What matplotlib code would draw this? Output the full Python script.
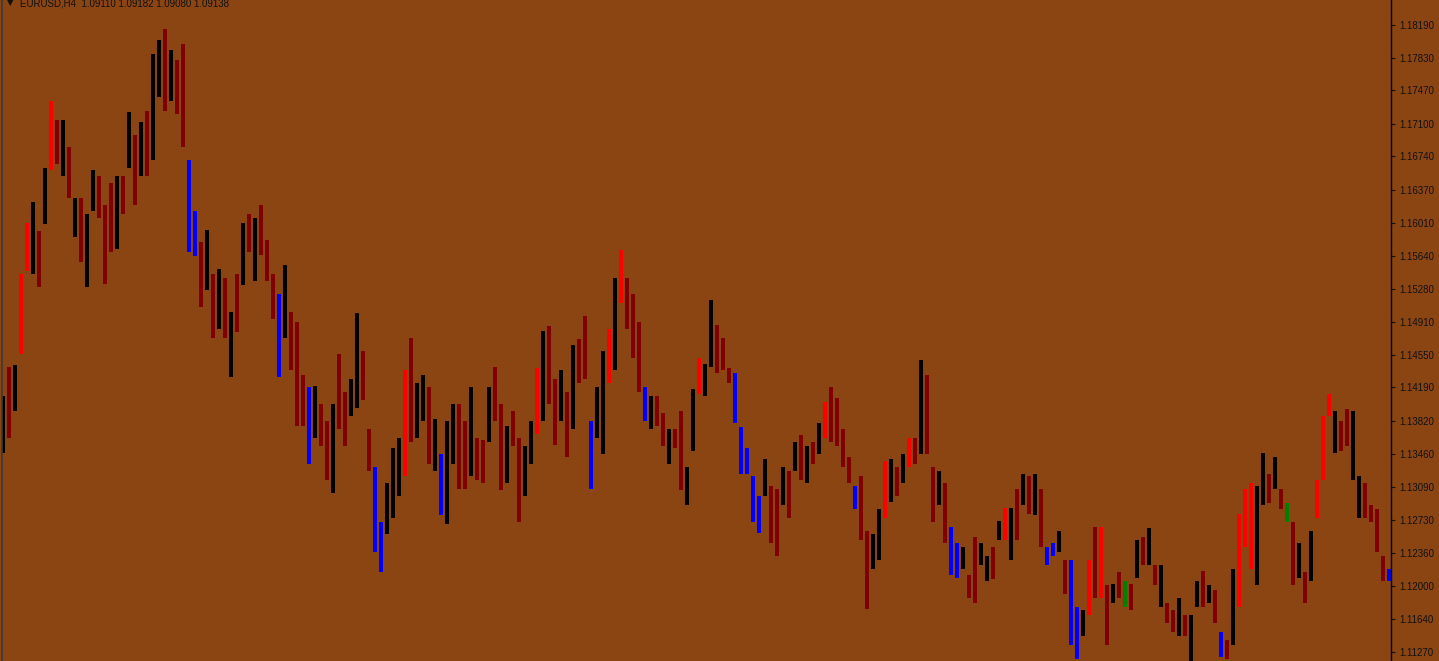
import matplotlib
matplotlib.use('Agg')
import matplotlib.pyplot as plt
import numpy as np

plt.rcParams['font.family'] = ['Liberation Sans', 'DejaVu Sans']

# header of the MT4 window
symbol = 'EURUSD,H4'
last_ohlc = ['1.09110', '1.09182', '1.09080', '1.09138']

# bar highs / lows (one entry per ~6 px column)
highs = [
    1.1410, 1.1442, 1.1444, 1.1544, 1.1601, 1.1624, 1.1592, 1.1661, 1.1735, 1.1714,
    1.1714, 1.1684, 1.1628, 1.1628, 1.1610, 1.1659, 1.1652, 1.1620, 1.1645, 1.1652,
    1.1652, 1.1723, 1.1698, 1.1712, 1.1724, 1.1787, 1.1802, 1.1815, 1.1791, 1.1780,
    1.1798, 1.1670, 1.1614, 1.1579, 1.1593, 1.1544, 1.1550, 1.1540, 1.1502, 1.1544,
    1.1600, 1.1610, 1.1606, 1.1620, 1.1582, 1.1544, 1.1522, 1.1554, 1.1502, 1.1491,
    1.1433, 1.1419, 1.1421, 1.1401, 1.1382, 1.1401, 1.1456, 1.1414, 1.1428, 1.1501,
    1.1459, 1.1373, 1.1331, 1.1271, 1.1313, 1.1352, 1.1363, 1.1438, 1.1474, 1.1424,
    1.1433, 1.1419, 1.1384, 1.1345, 1.1382, 1.1401, 1.1401, 1.1382, 1.1419, 1.1363,
    1.1361, 1.1419, 1.1442, 1.1401, 1.1377, 1.1393, 1.1363, 1.1354, 1.1382, 1.1440,
    1.1481, 1.1487, 1.1428, 1.1438, 1.1414, 1.1466, 1.1473, 1.1498, 1.1382, 1.1419,
    1.1459, 1.1484, 1.1540, 1.1571, 1.1540, 1.1522, 1.1491, 1.1419, 1.1410, 1.1410,
    1.1391, 1.1373, 1.1373, 1.1393, 1.1331, 1.1417, 1.1452, 1.1445, 1.1516, 1.1488,
    1.1474, 1.1440, 1.1435, 1.1375, 1.1352, 1.1321, 1.1299, 1.1340, 1.1310, 1.1307,
    1.1331, 1.1327, 1.1359, 1.1366, 1.1354, 1.1359, 1.1380, 1.1403, 1.1419, 1.1407,
    1.1373, 1.1342, 1.1310, 1.1321, 1.1261, 1.1257, 1.1285, 1.1338, 1.1340, 1.1331,
    1.1345, 1.1363, 1.1363, 1.1449, 1.1433, 1.1331, 1.1327, 1.1313, 1.1265, 1.1247,
    1.1243, 1.1212, 1.1254, 1.1247, 1.1233, 1.1243, 1.1272, 1.1286, 1.1286, 1.1307,
    1.1324, 1.1321, 1.1324, 1.1307, 1.1243, 1.1247, 1.1261, 1.1229, 1.1229, 1.1177,
    1.1173, 1.1229, 1.1265, 1.1265, 1.1201, 1.1202, 1.1215, 1.1205, 1.1202, 1.1251,
    1.1254, 1.1264, 1.1223, 1.1223, 1.1181, 1.1173, 1.1187, 1.1168, 1.1168, 1.1205,
    1.1216, 1.1201, 1.1195, 1.1149, 1.1140, 1.1219, 1.1279, 1.1307, 1.1313, 1.1310,
    1.1347, 1.1324, 1.1342, 1.1307, 1.1292, 1.1271, 1.1247, 1.1215, 1.1261, 1.1317,
    1.1387, 1.1412, 1.1393, 1.1382, 1.1395, 1.1393, 1.1321, 1.1313, 1.1289, 1.1285,
    1.1233, 1.1219,
]
lows = [
    1.1347, 1.1363, 1.1393, 1.1456, 1.1547, 1.1544, 1.1530, 1.1599, 1.1659, 1.1666,
    1.1652, 1.1628, 1.1585, 1.1558, 1.1530, 1.1614, 1.1606, 1.1533, 1.1568, 1.1572,
    1.1610, 1.1661, 1.1620, 1.1652, 1.1652, 1.1670, 1.1739, 1.1724, 1.1735, 1.1721,
    1.1684, 1.1568, 1.1564, 1.1508, 1.1526, 1.1474, 1.1484, 1.1474, 1.1431, 1.1480,
    1.1532, 1.1568, 1.1536, 1.1565, 1.1536, 1.1494, 1.1431, 1.1474, 1.1438, 1.1377,
    1.1377, 1.1335, 1.1363, 1.1354, 1.1317, 1.1303, 1.1373, 1.1354, 1.1387, 1.1396,
    1.1405, 1.1327, 1.1237, 1.1215, 1.1257, 1.1275, 1.1299, 1.1321, 1.1359, 1.1363,
    1.1382, 1.1335, 1.1327, 1.1278, 1.1268, 1.1335, 1.1307, 1.1307, 1.1321, 1.1317,
    1.1313, 1.1359, 1.1382, 1.1306, 1.1313, 1.1354, 1.1271, 1.1299, 1.1335, 1.1368,
    1.1382, 1.1401, 1.1356, 1.1382, 1.1342, 1.1373, 1.1424, 1.1428, 1.1307, 1.1363,
    1.1345, 1.1424, 1.1438, 1.1512, 1.1484, 1.1452, 1.1414, 1.1382, 1.1373, 1.1377,
    1.1354, 1.1335, 1.1352, 1.1306, 1.1289, 1.1349, 1.1412, 1.1410, 1.1442, 1.1435,
    1.1438, 1.1424, 1.1380, 1.1324, 1.1324, 1.1271, 1.1258, 1.1299, 1.1247, 1.1233,
    1.1289, 1.1275, 1.1327, 1.1317, 1.1314, 1.1335, 1.1345, 1.1363, 1.1359, 1.1354,
    1.1331, 1.1313, 1.1285, 1.1251, 1.1175, 1.1219, 1.1229, 1.1275, 1.1293, 1.1299,
    1.1313, 1.1331, 1.1335, 1.1345, 1.1345, 1.1271, 1.1289, 1.1247, 1.1212, 1.1209,
    1.1219, 1.1187, 1.1181, 1.1223, 1.1205, 1.1208, 1.1251, 1.1251, 1.1229, 1.1251,
    1.1289, 1.1279, 1.1278, 1.1243, 1.1223, 1.1233, 1.1237, 1.1191, 1.1135, 1.1119,
    1.1145, 1.1168, 1.1187, 1.1187, 1.1135, 1.1181, 1.1187, 1.1177, 1.1173, 1.1209,
    1.1223, 1.1223, 1.1201, 1.1177, 1.1159, 1.1149, 1.1145, 1.1145, 1.1117, 1.1177,
    1.1177, 1.1181, 1.1159, 1.1122, 1.1119, 1.1135, 1.1177, 1.1243, 1.1219, 1.1201,
    1.1289, 1.1292, 1.1307, 1.1285, 1.1271, 1.1201, 1.1209, 1.1181, 1.1205, 1.1275,
    1.1317, 1.1387, 1.1347, 1.1349, 1.1354, 1.1317, 1.1275, 1.1275, 1.1271, 1.1237,
    1.1205, 1.1205,
]
# bar colour codes: k black, d dark red, r red, b blue, g green
bar_codes = (
    "kdkrrkdkrd" "kdkdkkdddk" "dkdkdkkdkd" "dbbdkdkdkd" "kdkdddbkdd"
    "dbkddkddkk" "ddbbkkkrdk" "kdkbkkddkd" "dkddkddkkr" "kddkdkddbk"
    "krkrdddbkd" "dkddkkrkkd" "ddbbbbbkdd" "kdkdkdkrdd" "ddbddkkrkd"
    "krdkddkdbb" "kddkkdkrkd" "kdkdbbkdbb" "krdrdkdgdk" "dkdkddkdkk"
    "dkdbdkrrrk" "kdkdgdkdkr" "rrkddkkddd" "db"
)

price_ticks = [1.18190, 1.17830, 1.17470, 1.17100, 1.16740, 1.16370, 1.16010,
               1.15640, 1.15280, 1.14910, 1.14550, 1.14190, 1.13820, 1.13460,
               1.13090, 1.12730, 1.12360, 1.12000, 1.11640, 1.11270]

palette = {'k': '#000000', 'd': '#800000', 'r': '#ff0000', 'b': '#0000ff', 'g': '#008000'}
bg = '#8b4513'

W, H = 1439, 661
fig = plt.figure(figsize=(W / 100, H / 100), dpi=100, facecolor=bg)
ax = fig.add_axes([2 / W, 0, 1389 / W, 1], facecolor=bg)

hi = np.array(highs)
lo = np.array(lows)
x = np.arange(len(hi)) + 0.5
ax.bar(x, hi - lo, bottom=lo, width=0.8, linewidth=0,
       color=[palette[c] for c in bar_codes])

ax.set_xlim(2 / 6, 1391 / 6)
ax.set_ylim(1.11171, 1.18466)
ax.set_xticks([])
ax.yaxis.tick_right()
ax.set_yticks(price_ticks)
ax.set_yticklabels([f'{p:.5f}' for p in price_ticks])
ax.tick_params(axis='y', direction='out', length=3, width=0.8, pad=3,
               labelsize=7, colors='#111111')
for s in ['top', 'bottom']:
    ax.spines[s].set_visible(False)
ax.spines['right'].set_color('black')
ax.spines['right'].set_linewidth(1)
ax.spines['left'].set_color('#3a3a3a')
ax.spines['left'].set_linewidth(1.2)

fig.text(7 / W, 1 - 3 / H, '\u25bc', fontsize=6, va='center', family='DejaVu Sans', color='#111111')
fig.text(20 / W, 1 - 3 / H, symbol + '  ' + ' '.join(last_ohlc), fontsize=7,
         va='center', color='#111111')

fig.savefig('out.png', dpi=100, facecolor=bg)
